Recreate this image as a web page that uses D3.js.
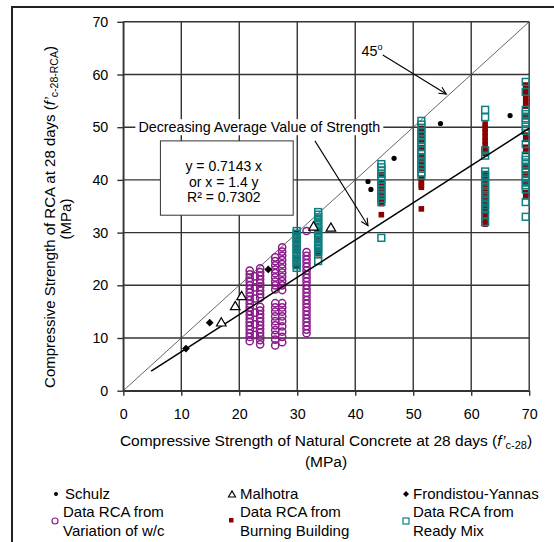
<!DOCTYPE html>
<html><head><meta charset="utf-8">
<script src="https://cdn.jsdelivr.net/npm/d3@7"></script>
<style>
body{margin:0;background:#fff;}
svg{display:block;font-family:"Liberation Sans",Arial,sans-serif;}
</style>
</head><body>
<svg id="c" width="554" height="542"></svg>
<script>
// ---------------- DATA ----------------
const xTickValues = [0, 10, 20, 30, 40, 50, 60, 70];
const yTickValues = [0, 10, 20, 30, 40, 50, 60, 70];

const schulzX = [42.2, 42.7, 46.7, 54.7, 66.7];
const schulzY = [39.7, 38.2, 44.1, 50.7, 52.2];

const malhotraX = [16.9, 19.3, 20.4, 32.8, 35.8];
const malhotraY = [12.8, 15.9, 17.8, 31.0, 30.8];

const frondistouX = [10.8, 14.9, 25.0];
const frondistouY = [8.0, 12.9, 23.0];

// Data RCA from Variation of w/c (columns of points)
const wcColumnX = [21.8, 22.7, 23.6, 26.2, 27.4, 31.6];
const wcColumnY = [
  [22.8, 22.1, 21.4, 20.7, 20.0, 19.3, 18.6, 17.9, 17.2, 16.5, 15.8, 15.1, 14.4, 13.7, 13.0, 12.3, 11.6, 10.9, 10.2, 9.4],
  [21.7, 19.6, 17.5, 14.8, 12.6, 10.6],
  [23.2, 22.5, 21.8, 21.1, 20.4, 19.7, 19.0, 18.3, 17.6, 15.9, 15.2, 14.5, 13.8, 13.1, 12.4, 11.7, 11.0, 10.3, 9.6, 8.8],
  [25.3, 24.6, 23.8, 23.0, 22.3, 21.5, 20.7, 20.0, 19.2, 16.6, 15.8, 15.0, 14.1, 13.2, 12.4, 11.5, 10.6, 9.7, 8.6],
  [27.2, 26.4, 25.6, 24.8, 24.0, 23.2, 22.4, 21.6, 20.8, 20.0, 19.1, 16.6, 15.8, 15.0, 14.1, 13.2, 12.2, 11.2, 10.2, 9.2],
  [30.3, 26.3, 25.6, 24.9, 24.2, 23.5, 22.8, 22.1, 21.4, 20.7, 20.0, 19.3, 18.6, 17.9, 17.2, 16.5, 15.8, 15.1, 14.4, 13.7, 13.0, 12.3, 11.6, 10.9]
];

// Data RCA from Burning Building
const burnColumnX = [29.9, 33.6, 44.5, 51.4, 62.4, 69.4];
const burnColumnY = [
  [29.8, 28.6, 27.2, 26.6, 25.0, 23.8],
  [30.2, 28.6, 26.6, 26.0],
  [41.0, 39.5, 38.4, 37.3, 36.2, 35.5, 33.4],
  [49.7, 48.5, 47.3, 46.1, 44.6, 43.4, 42.2, 40.2, 39.6, 39.0, 38.6, 34.5],
  [50.6, 49.8, 49.0, 48.2, 47.4, 46.6, 45.8, 45.0, 41.2, 40.4, 39.6, 38.8, 38.0, 37.2, 36.4, 35.6, 34.8, 34.0, 33.2, 32.4, 31.6],
  [58.0, 57.2, 56.4, 55.6, 54.8, 54.0, 52.1, 48.5, 47.7, 46.2, 45.4, 42.6, 41.0, 39.4, 37.6, 36.8]
];

// Data RCA from Ready Mix
const readyColumnX = [29.9, 33.6, 44.5, 51.4, 62.4, 69.4];
const readyColumnY = [
  [30.3, 29.8, 29.3, 28.8, 28.3, 27.8, 27.3, 26.8, 26.3, 25.8, 25.3, 24.8, 24.3, 23.8, 23.3],
  [33.9, 33.4, 32.9, 32.4, 31.9, 31.4, 30.9, 30.4, 29.9, 29.4, 28.9, 28.4, 27.9, 27.4, 26.9, 26.4, 25.9, 24.6],
  [43.0, 42.4, 41.8, 41.2, 40.6, 40.0, 39.4, 38.8, 38.2, 37.6, 37.0, 36.4, 35.8, 29.0],
  [51.2, 50.5, 49.8, 49.1, 48.4, 47.7, 47.0, 46.3, 45.6, 44.9, 44.2, 43.5, 42.8, 42.1, 41.4, 40.8],
  [53.3, 51.9, 45.6, 44.6, 41.6, 40.8, 40.0, 39.2, 38.4, 37.6, 36.8, 36.0, 35.2, 34.4, 33.4, 32.0],
  [58.6, 56.7, 53.3, 52.5, 51.7, 50.9, 50.1, 49.3, 46.8, 44.6, 43.8, 43.0, 42.2, 41.4, 40.6, 39.8, 39.0, 38.2, 35.8, 33.0]
];

const trendX = [4.8, 70];
const trendY = [3.7, 49.8];
const diagonalX = [0, 70];
const diagonalY = [0, 70];

const equationLines = ["y = 0.7143 x", "or x = 1.4 y", "R\u00B2 = 0.7302"];
const annotationText = "Decreasing Average Value of Strength";

// ---------------- CHART ----------------
const svg = d3.select("#c");
const x = d3.scaleLinear().domain([0, 70]).range([123.3, 529.2]);
const y = d3.scaleLinear().domain([0, 70]).range([390.7, 21.8]);
const GRID = "#333";

// outer frame
svg.append("rect").attr("x", 12).attr("y", 7).attr("width", 700).attr("height", 700)
  .attr("fill", "none").attr("stroke", "#222").attr("stroke-width", 2);

// grid
const grid = svg.append("g");
grid.selectAll(".h").data(yTickValues).join("line")
  .attr("x1", x(0)).attr("x2", x(70)).attr("y1", d => y(d)).attr("y2", d => y(d))
  .attr("stroke", GRID).attr("stroke-width", 1.4);
grid.selectAll(".v").data(xTickValues).join("line")
  .attr("y1", y(0)).attr("y2", y(70)).attr("x1", d => x(d)).attr("x2", d => x(d))
  .attr("stroke", GRID).attr("stroke-width", 1.4);

// axes
const xAxis = svg.append("g").attr("transform", `translate(0,${y(0)})`)
  .call(d3.axisBottom(x).tickValues(xTickValues).tickSize(5).tickSizeOuter(0).tickPadding(13));
const yAxis = svg.append("g").attr("transform", `translate(${x(0)},0)`)
  .call(d3.axisLeft(y).tickValues(yTickValues).tickSize(6).tickSizeOuter(0).tickPadding(9));
[xAxis, yAxis].forEach(a => {
  a.select(".domain").attr("stroke", GRID).attr("stroke-width", 1.4);
  a.selectAll(".tick line").attr("stroke", GRID).attr("stroke-width", 1.4);
  a.selectAll(".tick text").attr("font-size", 14.3).attr("fill", "#000")
    .attr("font-family", "'Liberation Sans',Arial,sans-serif");
});

// equation box
const eqBox = {x0: 6.4, x1: 29.3, y0: 47.4, y1: 33.3};
svg.append("rect").attr("x", x(eqBox.x0)).attr("y", y(eqBox.y0))
  .attr("width", x(eqBox.x1) - x(eqBox.x0)).attr("height", y(eqBox.y1) - y(eqBox.y0))
  .attr("fill", "#fff").attr("stroke", "#333").attr("stroke-width", 1);
svg.append("g").selectAll("text").data(equationLines).join("text")
  .attr("x", (x(eqBox.x0) + x(eqBox.x1)) / 2 - 3)
  .attr("y", (d, i) => 171 + i * 15.5)
  .attr("text-anchor", "middle").attr("font-size", 14).text(d => d);

// diagonal 45 line
const line = d3.line().x(d => x(d[0])).y(d => y(d[1]));
svg.append("path").datum(d3.zip(diagonalX, diagonalY)).attr("d", line)
  .attr("stroke", "#555").attr("stroke-width", 0.9).attr("fill", "none");

// Data: Variation of w/c
const wcPts = wcColumnX.flatMap((cx, i) => wcColumnY[i].map(v => [cx, v]));
svg.append("g").selectAll("circle").data(wcPts).join("circle")
  .attr("cx", d => x(d[0])).attr("cy", d => y(d[1])).attr("r", 3.6)
  .attr("fill", "none").attr("stroke", "#8B1A8B").attr("stroke-width", 1.5);

// Data: Burning building
const burnPts = burnColumnX.flatMap((cx, i) => burnColumnY[i].map(v => [cx, v]));
svg.append("g").selectAll("rect").data(burnPts).join("rect")
  .attr("x", d => x(d[0]) - 2.8).attr("y", d => y(d[1]) - 2.8).attr("width", 5.6).attr("height", 5.6)
  .attr("fill", "#8B0000");

// Data: Ready mix
const readyPts = readyColumnX.flatMap((cx, i) => readyColumnY[i].map(v => [cx, v]));
svg.append("g").selectAll("rect").data(readyPts).join("rect")
  .attr("x", d => x(d[0]) - 3.4).attr("y", d => y(d[1]) - 3.4).attr("width", 6.8).attr("height", 6.8)
  .attr("fill", "none").attr("stroke", "#0E8080").attr("stroke-width", 1.5);

// trend line
svg.append("path").datum(d3.zip(trendX, trendY)).attr("d", line)
  .attr("stroke", "#000").attr("stroke-width", 1.5).attr("fill", "none");

// Schulz
svg.append("g").selectAll("circle").data(d3.zip(schulzX, schulzY)).join("circle")
  .attr("cx", d => x(d[0])).attr("cy", d => y(d[1])).attr("r", 2.6).attr("fill", "#000");
// Malhotra
svg.append("g").selectAll("path").data(d3.zip(malhotraX, malhotraY)).join("path")
  .attr("transform", d => `translate(${x(d[0])},${y(d[1])})`)
  .attr("d", d3.symbol(d3.symbolTriangle, 40))
  .attr("fill", "#fff").attr("stroke", "#000").attr("stroke-width", 1.2);
// Frondistou-Yannas
svg.append("g").selectAll("path").data(d3.zip(frondistouX, frondistouY)).join("path")
  .attr("transform", d => `translate(${x(d[0])},${y(d[1])}) rotate(45)`)
  .attr("d", d3.symbol(d3.symbolSquare, 30)).attr("fill", "#000");

// annotations
function arrow(x1, y1, x2, y2) {
  const g = svg.append("g");
  const X1 = x(x1), Y1 = y(y1), X2 = x(x2), Y2 = y(y2);
  g.append("line").attr("x1", X1).attr("y1", Y1).attr("x2", X2).attr("y2", Y2)
    .attr("stroke", "#000").attr("stroke-width", 1.1);
  const a = Math.atan2(Y2 - Y1, X2 - X1), L = 8, w = 0.45;
  g.append("path").attr("d",
    `M${X2 - L * Math.cos(a - w)},${Y2 - L * Math.sin(a - w)}L${X2},${Y2}L${X2 - L * Math.cos(a + w)},${Y2 - L * Math.sin(a + w)}`)
    .attr("fill", "none").attr("stroke", "#000").attr("stroke-width", 1.1);
}
const annG = svg.append("g");
const annBg = annG.append("rect").attr("fill", "#fff");
const annT = annG.append("text").attr("x", x(2.6)).attr("y", y(50) + 5)
  .attr("font-size", 14.3).text(annotationText);
const bb = annT.node().getBBox();
annBg.attr("x", bb.x - 3).attr("y", bb.y).attr("width", bb.width + 6).attr("height", bb.height);
arrow(33.05, 47.4, 42.2, 31.3);

const t45 = svg.append("text").attr("x", x(41.1)).attr("y", y(63.5)).attr("font-size", 14.3);
t45.append("tspan").text("45");
t45.append("tspan").attr("font-size", 9).attr("dy", -6).text("o");
arrow(44.75, 63.7, 55.7, 56.3);

// axis titles
const xt = svg.append("text").attr("x", 326).attr("y", 446).attr("text-anchor", "middle").attr("font-size", 15.5);
xt.append("tspan").text("Compressive Strength of Natural Concrete at 28 days (");
xt.append("tspan").attr("font-style", "italic").text("f\u2019");
xt.append("tspan").attr("font-size", 11).attr("dy", 3).text("c-28");
xt.append("tspan").attr("dy", -3).text(")");
svg.append("text").attr("x", 326).attr("y", 467).attr("text-anchor", "middle").attr("font-size", 15.5).text("(MPa)");

const yt = svg.append("text").attr("transform", "translate(55,217) rotate(-90)")
  .attr("text-anchor", "middle").attr("font-size", 15);
yt.append("tspan").text("Compressive Strength of RCA at 28 days (");
yt.append("tspan").attr("font-style", "italic").text("f\u2019");
yt.append("tspan").attr("font-size", 10.5).attr("dy", 3).text("c-28-RCA");
yt.append("tspan").attr("dy", -3).text(")");
svg.append("text").attr("transform", "translate(71,219) rotate(-90)")
  .attr("text-anchor", "middle").attr("font-size", 15).text("(MPa)");

// legend
const lg = svg.append("g").attr("font-size", 15);
lg.append("circle").attr("cx", 56).attr("cy", 494).attr("r", 2).attr("fill", "#000");
lg.append("text").attr("x", 65).attr("y", 499).text("Schulz");
lg.append("path").attr("transform", "translate(232,495)").attr("d", d3.symbol(d3.symbolTriangle, 22))
  .attr("fill", "none").attr("stroke", "#000").attr("stroke-width", 1.1);
lg.append("text").attr("x", 240).attr("y", 499).text("Malhotra");
lg.append("path").attr("transform", "translate(406,494) rotate(45)").attr("d", d3.symbol(d3.symbolSquare, 18)).attr("fill", "#000");
lg.append("text").attr("x", 413).attr("y", 499).text("Frondistou-Yannas");

lg.append("circle").attr("cx", 55).attr("cy", 521).attr("r", 3).attr("fill", "none")
  .attr("stroke", "#8B1A8B").attr("stroke-width", 1.2);
lg.append("text").attr("x", 63).attr("y", 517).text("Data RCA from");
lg.append("text").attr("x", 63).attr("y", 536).text("Variation of w/c");
lg.append("rect").attr("x", 229).attr("y", 518).attr("width", 4.5).attr("height", 4.5).attr("fill", "#8B0000");
lg.append("text").attr("x", 240).attr("y", 517).text("Data RCA from");
lg.append("text").attr("x", 240).attr("y", 536).text("Burning Building");
lg.append("rect").attr("x", 403).attr("y", 518).attr("width", 6).attr("height", 6).attr("fill", "none")
  .attr("stroke", "#0E8080").attr("stroke-width", 1.2);
lg.append("text").attr("x", 413).attr("y", 517).text("Data RCA from");
lg.append("text").attr("x", 413).attr("y", 536).text("Ready Mix");
</script>
</body></html>
